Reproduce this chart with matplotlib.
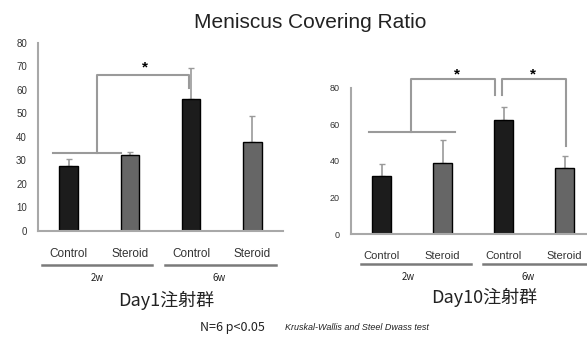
import matplotlib
matplotlib.use("Agg")
import matplotlib.pyplot as plt

plt.rcParams['font.family'] = ['Liberation Sans', 'DejaVu Sans']

categories = ["Control", "Steroid", "Control", "Steroid"]
groups = ["2w", "6w"]
day1_values = [27.7, 32.5, 56.2, 37.7]
day1_errors = [3.1, 1.0, 13.3, 11.3]
day10_values = [31.8, 38.8, 62.4, 36.0]
day10_errors = [6.4, 12.7, 6.8, 7.0]
day1_yticks = [0, 10, 20, 30, 40, 50, 60, 70, 80]
day10_yticks = [0, 20, 40, 60, 80]

W, H = 587, 339
fig = plt.figure(figsize=(W / 100, H / 100), dpi=100)

def px_axes(x0, x1, y_top, y_bot):
    return fig.add_axes([x0 / W, 1 - y_bot / H, (x1 - x0) / W, (y_bot - y_top) / H])

bar_colors = ['#1c1c1c', '#666666', '#1c1c1c', '#666666']
gray = '#9a9a9a'

def panel(ax, vals, errs, yticks, tick_fs, cat_fs, ul_y, gl_y, spans, group_x):
    x = range(len(vals))
    ax.bar(x, vals, width=0.3, color=bar_colors, edgecolor='black', linewidth=1, zorder=2)
    ax.errorbar(x, vals, yerr=[[0] * len(errs), errs], fmt='none', ecolor=gray,
                elinewidth=1.2, capsize=2, capthick=1, zorder=1)
    ax.set_xlim(-0.5, 3.5)
    ax.set_ylim(0, 80)
    ax.set_yticks(yticks)
    ax.set_xticks(list(x))
    ax.set_xticklabels(categories, fontsize=cat_fs, color='#333333')
    ax.tick_params(axis='x', length=0, pad=12)
    ax.tick_params(axis='y', length=0, pad=8, labelsize=tick_fs, labelcolor='#333333')
    for s in ['top', 'right']:
        ax.spines[s].set_visible(False)
    for s in ['left', 'bottom']:
        ax.spines[s].set_color('#a8a8a8')
        ax.spines[s].set_linewidth(1.5)
    tr = ax.get_xaxis_transform()
    for (a, b), gx, g in zip(spans, group_x, groups):
        ax.plot([a, b], [ul_y, ul_y], transform=tr, color='#7a7a7a', lw=1.8, clip_on=False)
        ax.text(gx, gl_y, g, transform=tr, ha='center', va='center', fontsize=7,
                family=['Noto Sans CJK JP', 'DejaVu Sans'], color='#222222')

def bracket(ax, xs, ys):
    ax.plot(xs, ys, color=gray, lw=1.5, clip_on=False, zorder=3)

def star(ax, x, y):
    ax.text(x, y, '*', ha='center', va='center', fontsize=11, fontweight='bold', clip_on=False)

# Left panel (Day1)
ax1 = px_axes(38, 283, 43, 231)
panel(ax1, day1_values, day1_errors, day1_yticks, 7, 8.5, -0.181, -0.25,
      [(-0.44, 1.36), (1.57, 3.38)], [0.47, 2.45])
bracket(ax1, [-0.26, 0.85], [33.3, 33.3])
bracket(ax1, [0.46, 0.46, 1.97, 1.97], [33.3, 66.4, 66.4, 61])
star(ax1, 1.25, 69.5)

# Right panel (Day10)
ax2 = px_axes(351, 595, 87.7, 234.3)
panel(ax2, day10_values, day10_errors, day10_yticks, 6.5, 8, -0.203, -0.291,
      [(-0.33, 1.46), (1.66, 3.6)], [0.43, 2.4])
bracket(ax2, [-0.21, 1.2], [56, 56])
bracket(ax2, [0.49, 0.49, 1.86, 1.86], [56, 84.6, 84.6, 76])
bracket(ax2, [1.98, 1.98, 3.02, 3.02], [76, 84.6, 84.6, 48])
star(ax2, 1.23, 87)
star(ax2, 2.49, 87)

fig.text(310 / W, 1 - 23 / H, 'Meniscus Covering Ratio', ha='center', va='center',
         fontsize=15, color='#222222')
fig.text(166 / W, 1 - 300 / H, 'Day1注射群', ha='center', va='center', fontsize=13,
         family=['Noto Sans CJK JP', 'DejaVu Sans'], color='#222222')
fig.text(484 / W, 1 - 297 / H, 'Day10注射群', ha='center', va='center', fontsize=13,
         family=['Noto Sans CJK JP', 'DejaVu Sans'], color='#222222')
fig.text(200 / W, 1 - 328 / H, 'N=6 p<0.05', ha='left', va='center', fontsize=9,
         family=['Noto Sans CJK JP', 'DejaVu Sans'], color='#222222')
fig.text(285 / W, 1 - 328 / H, 'Kruskal-Wallis and Steel Dwass test', ha='left', va='center',
         fontsize=6.5, style='italic', color='#222222')

fig.savefig('out.png', dpi=100)
